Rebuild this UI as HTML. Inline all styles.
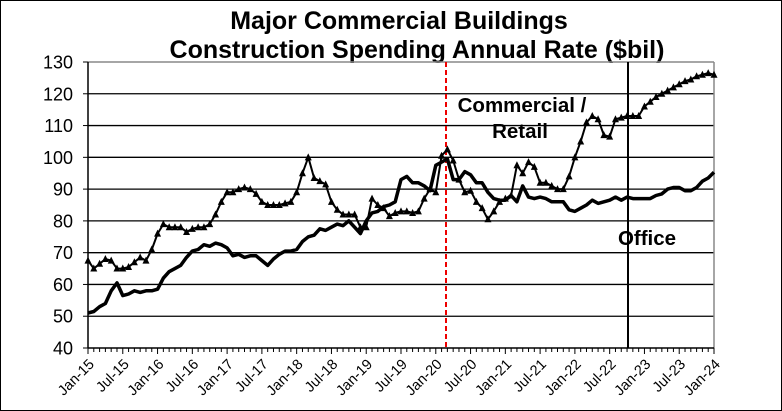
<!DOCTYPE html>
<html><head><meta charset="utf-8"><style>
body{margin:0;background:#fff;}
svg{display:block;font-family:"Liberation Sans",Arial,sans-serif;}
</style></head><body>
<svg id="s" width="782" height="411" viewBox="0 0 782 411" xmlns="http://www.w3.org/2000/svg">
<rect x="0.5" y="0.5" width="781" height="410" fill="#fff" stroke="#000"/>
<text x="399" y="29" text-anchor="middle" font-size="25" font-weight="bold">Major Commercial Buildings</text>
<text x="417" y="58" text-anchor="middle" font-size="25" font-weight="bold">Construction Spending Annual Rate ($bil)</text>
<g id="g"></g>
<text x="522" y="112" text-anchor="middle" font-size="20.5" font-weight="bold">Commercial /</text>
<text x="520" y="138" text-anchor="middle" font-size="20.5" font-weight="bold">Retail</text>
<text x="647" y="245" text-anchor="middle" font-size="20.5" font-weight="bold">Office</text>
</svg>
<script>
var L=88,R=714,T=62,B=348;
function X(i){return L+i*(R-L)/108;}
function Y(v){return B-(v-40)*(B-T)/90;}
var com=[67.5,65,66.5,68,67.5,65,65,65.5,67,68.5,67.5,71,
76,79,78,78,78,76.5,77.5,78,78,79,82,86,
89,89,90,90.5,90,88.5,86,85,85,85,85.5,86,
89,95,100,93.5,92.5,91.5,86,83.5,82,82,82,78,
78,87,85,84,81.5,82.5,83,83,82.5,83,87,90,
89,100.5,102.5,99,93,89,89.5,86,84,80.5,83,86,
87,88,97.5,95,98.5,97,92,92,91,90,90,94,
100,105,111,113,112,107,106.5,112,112.5,113,113,113,
116,117.5,119,120,121,122,123,124,124.5,125.5,126,126.5,126];
var off=[51,51.5,53,54,58,60.5,56.5,57,58,57.5,58,58,
58.5,62,64,65,66,68.5,70.5,71,72.5,72,73,72.5,
71.5,69,69.5,68.5,69,69,67.5,66,68,69.5,70.5,70.5,
71,73.5,75,75.5,77.5,77,78,79,78.5,80,78,76,
80,82.5,83,84.5,85,86,93,94,92,92,91,89.5,
97.5,98.5,99.5,93,93,95.5,94.5,92,92,89,87,86.5,
86.5,88,86,91,87.5,87,87.5,87,86,86,86,83.5,
83,84,85,86.5,85.5,86,86.5,87.5,86.5,87.5,87,87,
87,87,88,88.5,90,90.5,90.5,89.5,89.5,90.5,92.5,93.5,95.3];
var h='';
for(var v=50;v<130;v+=10)h+='<line x1="'+L+'" x2="'+R+'" y1="'+Y(v)+'" y2="'+Y(v)+'" stroke="#000" stroke-width="1.3"/>';
h+='<line x1="'+L+'" x2="'+R+'" y1="'+T+'" y2="'+T+'" stroke="#888" stroke-width="1.5"/>';
h+='<line x1="'+R+'" x2="'+R+'" y1="'+T+'" y2="'+B+'" stroke="#888" stroke-width="1.5"/>';
h+='<line x1="'+L+'" x2="'+L+'" y1="'+T+'" y2="'+B+'" stroke="#000" stroke-width="1.5"/>';
h+='<line x1="'+L+'" x2="'+R+'" y1="'+B+'" y2="'+B+'" stroke="#000" stroke-width="1.5"/>';
for(var v=40;v<=130;v+=10){h+='<line x1="'+(L-5)+'" x2="'+L+'" y1="'+Y(v)+'" y2="'+Y(v)+'" stroke="#000"/>';
h+='<text x="73" y="'+(Y(v)+6.5)+'" text-anchor="end" font-size="18">'+v+'</text>';}
var mn=["Jan","Jul"];
for(var i=0;i<=108;i++){var x=X(i);h+='<line x1="'+x+'" x2="'+x+'" y1="'+B+'" y2="'+(B+(i%6==0?6:4))+'" stroke="#000"/>';
if(i%6==0){var yr=15+Math.floor(i/12);var lab=mn[(i/6)%2]+'-'+yr;
h+='<text transform="translate('+(x+7)+','+(B+17)+') rotate(-45)" text-anchor="end" font-size="14.5">'+lab+'</text>';}}
h+='<line x1="446" x2="446" y1="'+T+'" y2="'+B+'" stroke="#e00" stroke-width="2" stroke-dasharray="5,3"/>';
h+='<line x1="628" x2="628" y1="'+T+'" y2="'+B+'" stroke="#000" stroke-width="2"/>';
var p='';for(var i=0;i<off.length;i++)p+=X(i).toFixed(1)+','+Y(off[i]).toFixed(1)+' ';
h+='<polyline points="'+p+'" fill="none" stroke="#000" stroke-width="3.5" stroke-linejoin="round"/>';
p='';for(var i=0;i<com.length;i++)p+=X(i).toFixed(1)+','+Y(com[i]).toFixed(1)+' ';
h+='<polyline points="'+p+'" fill="none" stroke="#000" stroke-width="2" stroke-linejoin="round"/>';
for(var i=0;i<com.length;i++){var x=X(i),y=Y(com[i]);h+='<polygon points="'+(x-3.5)+','+(y+3)+' '+(x+3.5)+','+(y+3)+' '+x+','+(y-4)+'" fill="#000"/>';}
document.getElementById('g').innerHTML=h;
</script>
</body></html>
